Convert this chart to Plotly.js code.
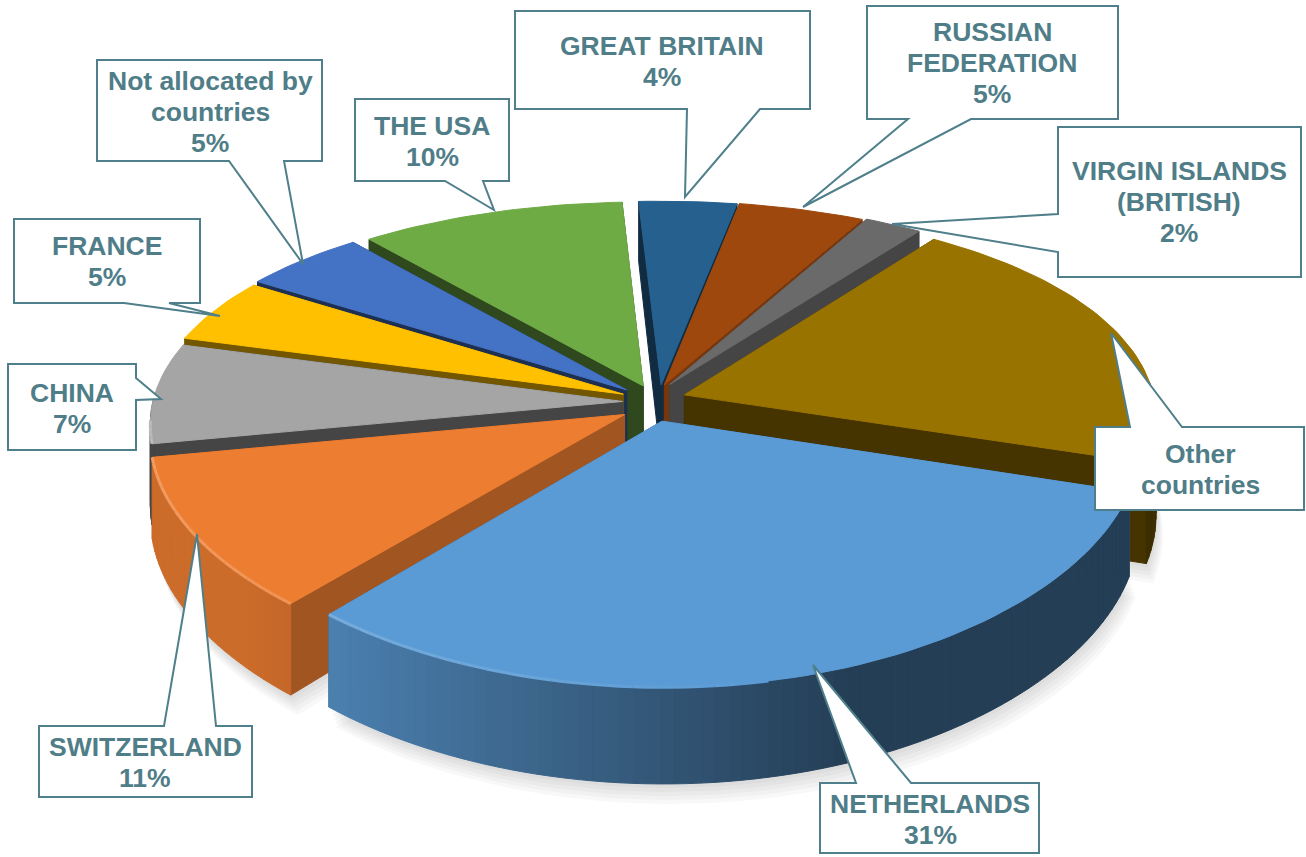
<!DOCTYPE html>
<html><head><meta charset="utf-8">
<script src="https://cdn.plot.ly/plotly-3.0.1.min.js"></script>
<style>html,body{margin:0;padding:0;background:#fff}#c{width:1306px;height:857px}</style>
</head><body><div id="c"></div>
<script>
// ---- data ----
const categories = ['GREAT BRITAIN','RUSSIAN<br>FEDERATION','VIRGIN ISLANDS<br>(BRITISH)','Other<br>countries','NETHERLANDS','SWITZERLAND','CHINA','FRANCE','Not allocated by<br>countries','THE USA'];
const values = [3.7,4.8,2.2,20,31.4,10.7,7.4,4.9,4.8,10.1];
const showPercent = [true,true,true,false,true,true,true,true,true,true];
// ---- style ----
const colors = ['#25608f','#9e480e','#6a6a6a','#997300','#5b9bd5','#ed7d31','#a5a5a5','#ffc000','#4472c4','#6fab45'];
const explode = [0.07,0.075,0.085,0.075,0.10,0.06,0.06,0.065,0.07,0.07];
const cutShade = [0.45,0.75,0.65,0.45,0.6,0.68,0.42,0.45,0.42,0.42];
const wallMax = [0.86,0.86,0.86,0.86,0.86,0.86,0.42,0.86,0.86,0.86];
const nudgeX = [8,2,-2,0,-2,-2,0,0,0,4];
const nudgeY = [0,0,0,0,0,8,2,0,0,0];
const wallExtra = [0,0,0,18,0,0,0,0,0,0];
const textColor = '#4f7d88', boxLine = '#4f7f8a';
const boxes = [
 {x0:515,x1:810,y0:11,y1:109,side:'b',a:687,b:760,tx:685,ty:197,cx:662,cy:61},
 {x0:867,x1:1118,y0:6,y1:119,side:'b',a:908,b:971,tx:803,ty:207,cx:992,cy:63},
 {x0:1058,x1:1301,y0:127,y1:277,side:'l',a:214,b:252,tx:892,ty:224,cx:1179,cy:202},
 {x0:1095,x1:1304,y0:427,y1:510,side:'t',a:1130,b:1182,tx:1111,ty:333,cx:1200,cy:469},
 {x0:820,x1:1039,y0:783,y1:853,side:'t',a:856,b:911,tx:813,ty:665,cx:930,cy:819},
 {x0:39,x1:252,y0:726,y1:797,side:'t',a:164,b:216,tx:197,ty:534,cx:145,cy:762},
 {x0:8,x1:136,y0:364,y1:450,side:'r',a:378,b:400,tx:161,ty:399,cx:72,cy:408},
 {x0:14,x1:200,y0:219,y1:303,side:'b',a:124,b:169,tx:220,ty:316,cx:107,cy:261},
 {x0:97,x1:322,y0:60,y1:161,side:'b',a:229,b:284,tx:303,ty:264,cx:210,cy:112},
 {x0:355,x1:509,y0:99,y1:181,side:'b',a:445,b:483,tx:494,ty:210,cx:432,cy:141}
];
// ---- projection of the tilted pie ----
const CX=651, CY=400, R=470, QY=217, KX=0.10, KY=0.157, ROT=-3, LINE=31;
const rad=d=>d*Math.PI/180;
function projAt(i,u,v){return [CX+nudgeX[i]+R*u/(1+KX*v), CY+nudgeY[i]-QY*v/(1+KY*v)];}
function wallH(i,v){return 78-17*v+wallExtra[i];}
function hex(c){return [1,3,5].map(i=>parseInt(c.substr(i,2),16));}
function shade(c,f){const h=hex(c);return 'rgb('+h.map(x=>Math.round(Math.min(255,x*f))).join(',')+')';}
function tint(c,t){const h=hex(c);return 'rgb('+h.map(x=>Math.round(x+(255-x)*t)).join(',')+')';}
function poly(pts,fill,line){return {type:'scatter',mode:'lines',x:pts.map(p=>p[0]),y:pts.map(p=>p[1]),fill:'toself',fillcolor:fill,line:{color:line||fill,width:1},hoverinfo:'skip'};}

const total=values.reduce((a,b)=>a+b,0);
let acc=0;
const slices=values.map((val,i)=>{
  const a0=ROT+acc/total*360; acc+=val; const a1=ROT+acc/total*360;
  const mid=(a0+a1)/2, e=explode[i];
  const ox=e*Math.sin(rad(mid)), oy=e*Math.cos(rad(mid));
  const pt=a=>[ox+Math.sin(rad(a)),oy+Math.cos(rad(a))];
  const arc=[];const n=Math.max(2,Math.ceil((a1-a0)/1.5));
  for(let k=0;k<=n;k++)arc.push(a0+(a1-a0)*k/n);
  return {i,a0,a1,mid,ox,oy,pt,arc};
});
const traces=[];
// soft shadow under the pie
[20,16,12,8,4].forEach(d=>{
  slices.forEach(s=>{
    const pts=[[s.ox,s.oy]].concat(s.arc.map(s.pt)).map(p=>{const q=projAt(s.i,p[0],p[1]);return [q[0]+d*0.35,q[1]+wallH(s.i,p[1])+d];});
    pts.push(pts[0]);
    traces.push(poly(pts,'rgba(90,90,90,0.045)','rgba(0,0,0,0)'));
  });
});
// walls and top faces, from the back of the pie to the front
slices.slice().sort((a,b)=>Math.cos(rad(b.mid))-Math.cos(rad(a.mid))).forEach(s=>{
  const c=colors[s.i], i=s.i;
  const apex=[s.ox,s.oy];
  // cut walls
  [s.a0,s.a1].forEach(a=>{
    const p=s.pt(a),A=projAt(i,apex[0],apex[1]),B=projAt(i,p[0],p[1]);
    const col=shade(c,cutShade[i]);
    traces.push(poly([A,B,[B[0],B[1]+wallH(i,p[1])],[A[0],A[1]+wallH(i,apex[1])],A],col));
  });
  // outer wall: only the part that faces the viewer
  for(let k=0;k<s.arc.length-1;k++){
    const am=(s.arc[k]+s.arc[k+1])/2;
    if(Math.cos(rad(am))>0.05) continue;
    const p=s.pt(s.arc[k]),q=s.pt(s.arc[k+1]);
    const A=projAt(i,p[0],p[1]),B=projAt(i,q[0],q[1]);
    const f=Math.max(0.4,Math.min(wallMax[i],0.55-0.42*Math.sin(rad(am))));
    traces.push(poly([A,B,[B[0],B[1]+wallH(i,q[1])],[A[0],A[1]+wallH(i,p[1])],A],shade(c,f)));
  }
  // top face
  const top=[apex].concat(s.arc.map(s.pt),[apex]).map(p=>projAt(i,p[0],p[1]));
  traces.push(poly(top,c));
  // bevel highlight along the near rim
  for(let k=0;k<s.arc.length-1;k++){
    const am=(s.arc[k]+s.arc[k+1])/2;
    const v=Math.cos(rad(am)), u=Math.sin(rad(am));
    if(v<-0.1&&u<0.2){
      const p=s.pt(s.arc[k]),q=s.pt(s.arc[k+1]);
      const A=projAt(i,p[0],p[1]),B=projAt(i,q[0],q[1]);
      traces.push({type:'scatter',mode:'lines',x:[A[0],B[0]],y:[A[1],B[1]],line:{color:tint(c,Math.max(0,0.2*(0.2-u))),width:3},hoverinfo:'skip'});
    }
  }
});
// ---- callouts ----
function calloutPath(b){
  const tip=`L${b.tx},${b.ty} `;
  let d=`M${b.x0},${b.y0} `;
  if(b.side==='t') d+=`L${b.a},${b.y0} ${tip}L${b.b},${b.y0} `;
  d+=`L${b.x1},${b.y0} `;
  if(b.side==='r') d+=`L${b.x1},${b.a} ${tip}L${b.x1},${b.b} `;
  d+=`L${b.x1},${b.y1} `;
  if(b.side==='b') d+=`L${b.b},${b.y1} ${tip}L${b.a},${b.y1} `;
  d+=`L${b.x0},${b.y1} `;
  if(b.side==='l') d+=`L${b.x0},${b.b} ${tip}L${b.x0},${b.a} `;
  return d+'Z';
}
const shapes=boxes.map(b=>({type:'path',path:calloutPath(b),xref:'x',yref:'y',layer:'above',fillcolor:'#ffffff',line:{color:boxLine,width:2}}));
const annotations=[];
boxes.forEach((b,i)=>{
  const lines=categories[i].split('<br>');
  if(showPercent[i]) lines.push(Math.round(values[i])+'%');
  lines.forEach((t,j)=>annotations.push({x:b.cx,y:b.cy+(j-(lines.length-1)/2)*LINE,xref:'x',yref:'y',showarrow:false,xanchor:'center',yanchor:'middle',align:'center',
    text:'<b>'+t+'</b>',font:{family:'Liberation Sans, Arial, sans-serif',size:26.5,color:textColor}}));
});
const axis={visible:false,fixedrange:true,showgrid:false,zeroline:false};
Plotly.newPlot('c',traces,{
  width:1306,height:857,margin:{l:0,r:0,t:0,b:0},showlegend:false,
  paper_bgcolor:'#ffffff',plot_bgcolor:'#ffffff',
  xaxis:Object.assign({range:[0,1306]},axis),
  yaxis:Object.assign({range:[857,0]},axis),
  shapes,annotations,hovermode:false
},{displayModeBar:false,staticPlot:true});
</script></body></html>
